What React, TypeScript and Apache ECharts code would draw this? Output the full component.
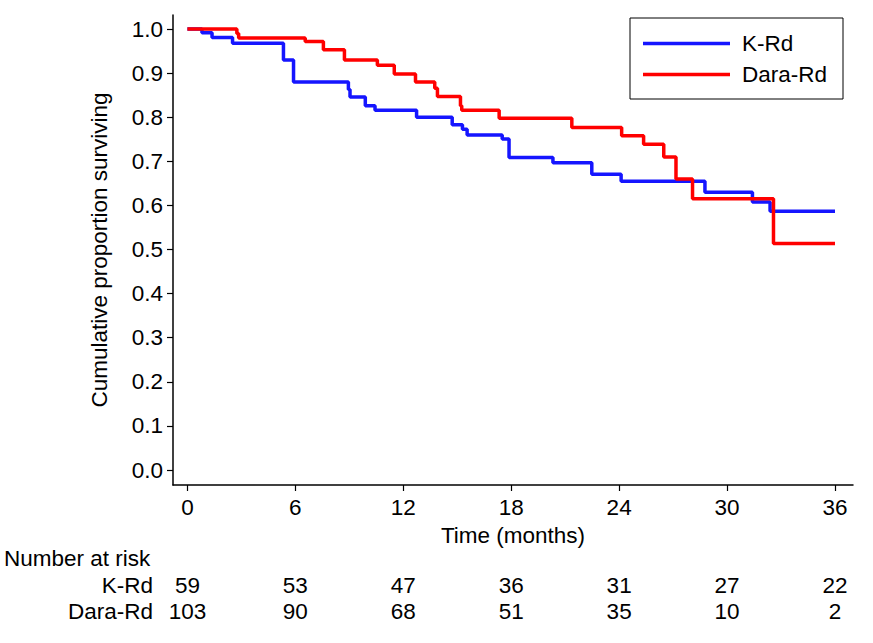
import React, { useEffect, useRef } from "react";
import * as echarts from "echarts";

const seriesNames = ["K-Rd", "Dara-Rd"];
const colors = ["#1515ff", "#ff0000"];

// Kaplan-Meier steps: [time (months), survival]
const kRdSteps: [number, number][] = [
  [0, 1.0], [0.81, 0.992], [1.37, 0.981], [2.51, 0.968], [5.34, 0.93], [5.9, 0.88],
  [8.95, 0.863], [9.04, 0.846], [9.89, 0.826], [10.43, 0.816], [12.74, 0.8],
  [14.72, 0.783], [15.29, 0.773], [15.55, 0.76], [17.5, 0.751], [17.88, 0.709],
  [20.32, 0.697], [22.48, 0.671], [24.11, 0.655], [28.77, 0.63], [31.41, 0.608],
  [32.39, 0.587], [36.0, 0.587],
];
const daraRdSteps: [number, number][] = [
  [0, 1.0], [2.75, 0.99], [2.85, 0.98], [6.55, 0.972], [7.56, 0.953], [8.73, 0.93],
  [10.56, 0.918], [11.5, 0.898], [12.68, 0.88], [13.75, 0.866], [13.9, 0.847],
  [15.18, 0.826], [15.25, 0.816], [17.33, 0.798], [21.37, 0.777], [24.14, 0.758],
  [25.36, 0.739], [26.48, 0.71], [27.16, 0.66], [28.08, 0.615], [32.58, 0.514],
  [36.0, 0.514],
];

const xTicks = [0, 6, 12, 18, 24, 30, 36];
const yTicks = [0, 0.1, 0.2, 0.3, 0.4, 0.5, 0.6, 0.7, 0.8, 0.9, 1.0];
const riskKRd = [59, 53, 47, 36, 31, 27, 22];
const riskDaraRd = [103, 90, 68, 51, 35, 10, 2];

const FONT = "'Liberation Sans', Arial, sans-serif";
const FS = 22.5;

export default function App() {
  const ref = useRef<HTMLDivElement>(null);
  useEffect(() => {
    if (!ref.current) return;
    const chart = echarts.init(ref.current, null, { renderer: "svg" });
    const riskData: any[] = [];
    xTicks.forEach((t, i) => {
      riskData.push([t, seriesNames[0], riskKRd[i]]);
      riskData.push([t, seriesNames[1], riskDaraRd[i]]);
    });
    chart.setOption({
      animation: false,
      backgroundColor: "#ffffff",
      textStyle: { fontFamily: FONT, color: "#000" },
      title: {
        text: "Number at risk",
        left: 4,
        top: 547,
        padding: 0,
        textStyle: { fontFamily: FONT, fontSize: FS, fontWeight: "normal", color: "#000" },
      },
      legend: {
        data: seriesNames.map((n) => ({ name: n, icon: "rect" })),
        orient: "vertical",
        left: 630,
        top: 18,
        padding: [14, 13, 13, 13],
        itemGap: 8,
        itemWidth: 87,
        itemHeight: 3.5,
        borderColor: "#000",
        borderWidth: 1,
        borderRadius: 0,
        textStyle: {
          fontFamily: FONT,
          fontSize: FS,
          color: "#000",
          width: 88,
          lineHeight: 22,
          padding: [0, 0, 0, 7],
        },
      },
      grid: [
        { left: 173, right: 20, top: 15, bottom: 158, containLabel: false },
        { left: 173, right: 20, top: 572, height: 52, containLabel: false },
      ],
      xAxis: [
        {
          type: "value",
          gridIndex: 0,
          min: -0.8,
          max: 37,
          name: "Time (months)",
          nameLocation: "middle",
          nameGap: 38,
          nameTextStyle: { fontFamily: FONT, fontSize: FS, color: "#000" },
          axisLine: { show: true, onZero: false, lineStyle: { color: "#000", width: 1.5 } },
          axisTick: { show: true, length: 6, customValues: xTicks, lineStyle: { color: "#000", width: 1.2 } },
          axisLabel: { customValues: xTicks, fontFamily: FONT, fontSize: FS, color: "#000", margin: 11 },
          splitLine: { show: false },
        },
        {
          type: "value",
          gridIndex: 1,
          min: -0.8,
          max: 37,
          show: false,
        },
      ],
      yAxis: [
        {
          type: "value",
          gridIndex: 0,
          min: -0.034,
          max: 1.032,
          name: "Cumulative proportion surviving",
          nameLocation: "middle",
          nameGap: 62,
          nameRotate: 90,
          nameTextStyle: { fontFamily: FONT, fontSize: FS, color: "#000" },
          axisLine: { show: true, onZero: false, lineStyle: { color: "#000", width: 1.5 } },
          axisTick: { show: true, length: 6, customValues: yTicks, lineStyle: { color: "#000", width: 1.2 } },
          axisLabel: {
            customValues: yTicks,
            formatter: (v: number) => v.toFixed(1),
            fontFamily: FONT,
            fontSize: FS,
            color: "#000",
            margin: 10,
          },
          splitLine: { show: false },
        },
        {
          type: "category",
          gridIndex: 1,
          data: seriesNames,
          inverse: true,
          axisLine: { show: false },
          axisTick: { show: false },
          axisLabel: { interval: 0, fontFamily: FONT, fontSize: FS, color: "#000", margin: 20, hideOverlap: false },
          splitLine: { show: false },
        },
      ],
      series: [
        {
          name: seriesNames[0],
          type: "line",
          step: "end",
          data: kRdSteps,
          symbol: "none",
          lineStyle: { color: colors[0], width: 3.5 },
          itemStyle: { color: colors[0] },
          xAxisIndex: 0,
          yAxisIndex: 0,
          z: 3,
        },
        {
          name: seriesNames[1],
          type: "line",
          step: "end",
          data: daraRdSteps,
          symbol: "none",
          lineStyle: { color: colors[1], width: 3.5 },
          itemStyle: { color: colors[1] },
          xAxisIndex: 0,
          yAxisIndex: 0,
          z: 4,
        },
        {
          name: "risk",
          type: "scatter",
          xAxisIndex: 1,
          yAxisIndex: 1,
          data: riskData,
          symbolSize: 1,
          itemStyle: { color: "rgba(0,0,0,0)" },
          label: {
            show: true,
            position: "inside",
            formatter: (p: any) => String(p.value[2]),
            fontFamily: FONT,
            fontSize: FS,
            color: "#000",
            textBorderWidth: 0,
            opacity: 1,
          },
          silent: true,
        },
      ],
    });
    return () => chart.dispose();
  }, []);
  return (
    <div
      ref={ref}
      style={{ position: "fixed", left: 0, top: 0, width: 873, height: 643, background: "#fff" }}
    />
  );
}
